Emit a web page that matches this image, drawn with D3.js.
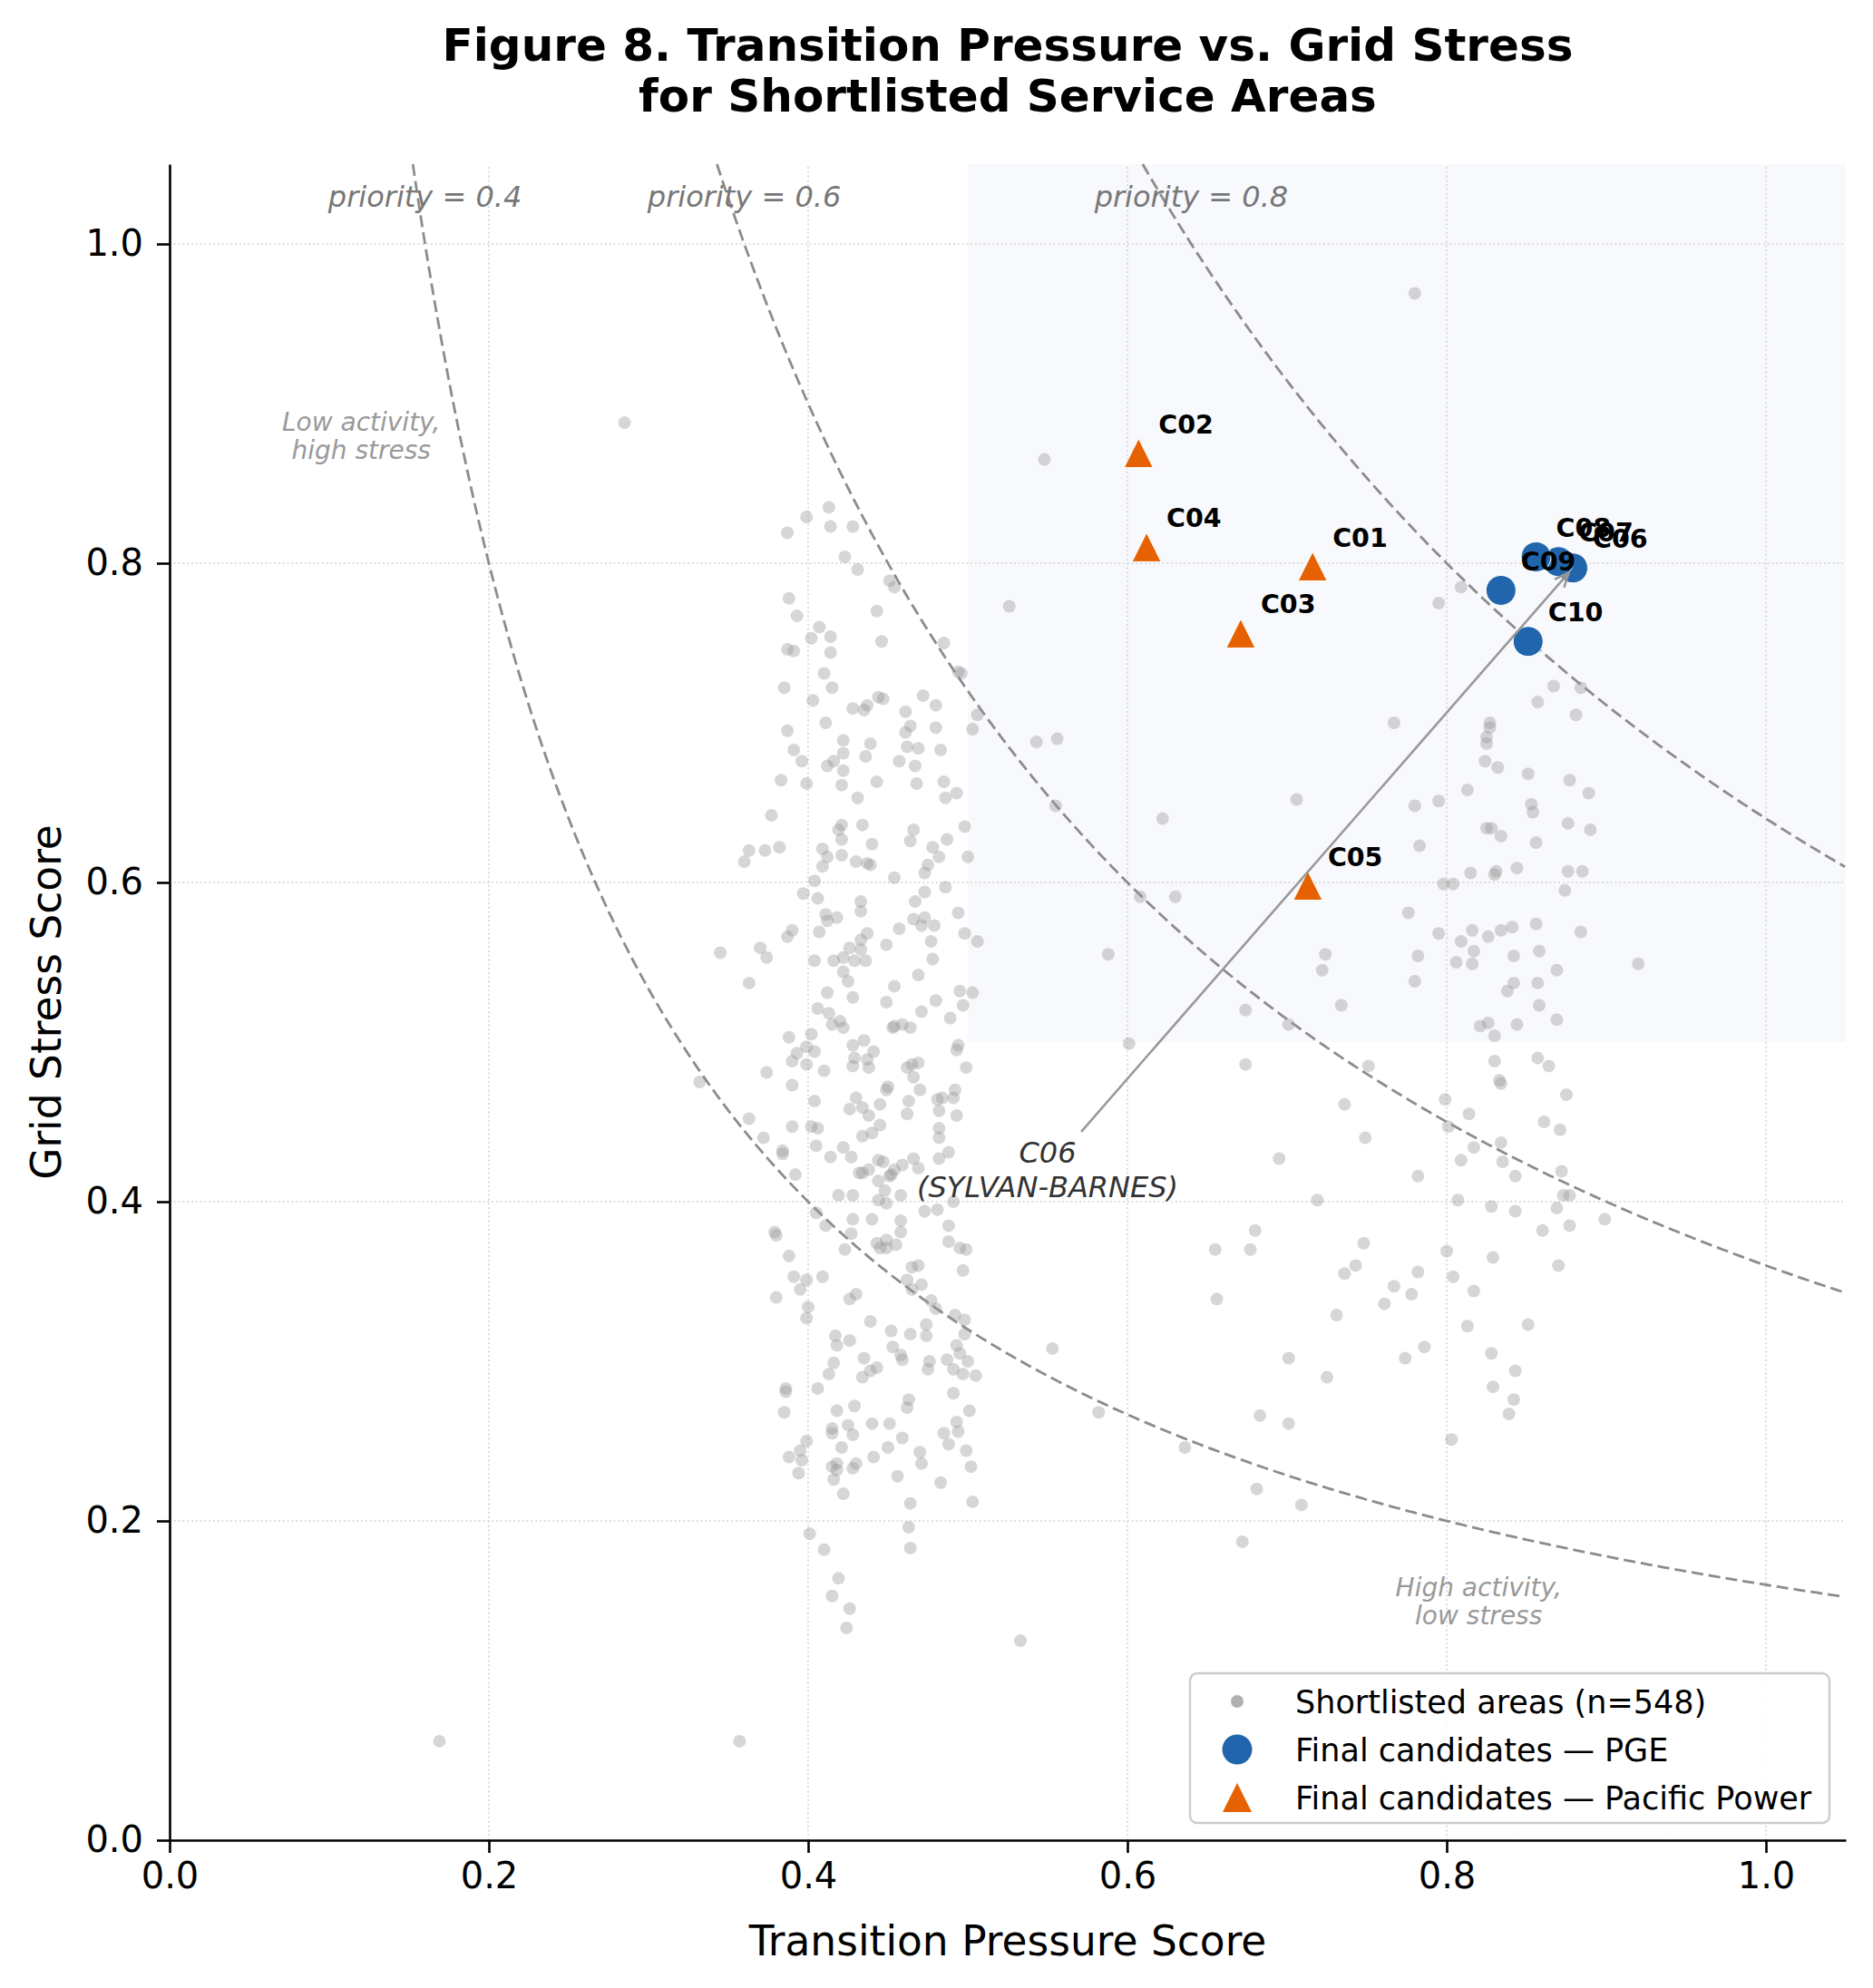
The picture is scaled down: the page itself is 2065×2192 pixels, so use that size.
<!DOCTYPE html>
<html>
<head>
<meta charset="utf-8">
<script src="https://cdn.jsdelivr.net/npm/d3@7"></script>
<style>
body{margin:0;background:#fff}
svg{display:block;font-family:"DejaVu Sans",sans-serif}
</style>
</head>
<body>
<svg id="chart" width="2065" height="2192"></svg>
<script>
// ---------------- data ----------------
var xTicks = [0.0, 0.2, 0.4, 0.6, 0.8, 1.0];
var yTicks = [0.0, 0.2, 0.4, 0.6, 0.8, 1.0];
var priorityLevels = [0.4, 0.6, 0.8];

var candidateIds     = ["C01","C02","C03","C04","C05","C06","C07","C08","C09","C10"];
var candidateUtility = ["Pacific Power","Pacific Power","Pacific Power","Pacific Power","Pacific Power","PGE","PGE","PGE","PGE","PGE"];
var candidateX       = [0.716,0.607,0.671,0.612,0.713,0.879,0.870,0.856,0.834,0.851];
var candidateY       = [0.798,0.869,0.756,0.810,0.598,0.797,0.801,0.804,0.783,0.751];

// shortlisted service areas [transition pressure, grid stress]
var shortlistedAreas = [
[0.169,0.062],[0.357,0.062],[0.285,0.888],[0.780,0.969],[0.533,0.125],[0.426,0.145],[0.424,0.133],
[0.548,0.865],[0.526,0.773],[0.809,0.785],[0.795,0.775],[0.867,0.723],[0.884,0.722],[0.857,0.713],[0.881,0.705],
[0.767,0.700],[0.827,0.700],[0.827,0.697],[0.825,0.691],[0.825,0.687],[0.824,0.676],[0.832,0.672],[0.851,0.668],
[0.877,0.664],[0.889,0.656],[0.813,0.658],[0.853,0.649],[0.854,0.644],[0.780,0.648],[0.795,0.651],[0.706,0.652],
[0.622,0.640],[0.876,0.637],[0.890,0.633],[0.825,0.634],[0.828,0.634],[0.834,0.629],[0.856,0.625],[0.783,0.623],
[0.815,0.606],[0.830,0.605],[0.831,0.607],[0.844,0.609],[0.876,0.607],[0.885,0.607],[0.874,0.595],[0.798,0.599],
[0.804,0.599],[0.776,0.581],[0.630,0.591],[0.608,0.591],[0.556,0.690],[0.543,0.688],[0.555,0.648],[0.506,0.705],
[0.503,0.696],[0.496,0.731],[0.498,0.635],[0.500,0.616],
[0.795,0.568],[0.809,0.563],[0.816,0.570],[0.826,0.566],[0.834,0.570],[0.841,0.572],[0.856,0.574],[0.884,0.569],
[0.817,0.557],[0.806,0.550],[0.816,0.549],[0.782,0.554],[0.842,0.554],[0.858,0.557],[0.869,0.545],[0.920,0.549],
[0.724,0.555],[0.722,0.545],[0.780,0.538],[0.842,0.537],[0.838,0.532],[0.857,0.537],[0.734,0.523],[0.858,0.523],
[0.826,0.512],[0.821,0.510],[0.844,0.511],[0.869,0.514],[0.830,0.504],[0.674,0.520],[0.701,0.511],[0.588,0.555],
[0.601,0.499],[0.674,0.486],[0.751,0.485],[0.830,0.488],[0.857,0.490],[0.864,0.485],[0.833,0.476],[0.834,0.474],
[0.875,0.467],[0.736,0.461],[0.799,0.464],[0.814,0.455],[0.861,0.450],[0.871,0.445],[0.801,0.447],[0.749,0.440],
[0.834,0.437],[0.817,0.434],[0.695,0.427],[0.809,0.426],[0.835,0.425],[0.782,0.416],[0.843,0.416],[0.872,0.419],
[0.873,0.404],[0.877,0.404],[0.719,0.401],[0.807,0.401],[0.828,0.397],[0.843,0.394],[0.869,0.396],[0.899,0.389],
[0.860,0.382],[0.877,0.385],[0.680,0.382],[0.655,0.370],[0.677,0.370],[0.748,0.374],[0.800,0.369],[0.829,0.365],
[0.870,0.360],[0.743,0.360],[0.736,0.355],[0.782,0.356],[0.804,0.353],[0.767,0.347],[0.778,0.342],[0.817,0.344],
[0.761,0.336],[0.656,0.339],[0.731,0.329],[0.851,0.323],[0.813,0.322],[0.786,0.309],[0.774,0.302],[0.701,0.302],
[0.553,0.308],[0.828,0.305],[0.843,0.294],[0.725,0.290],[0.829,0.284],[0.842,0.276],[0.839,0.267],[0.683,0.266],
[0.701,0.261],[0.582,0.268],[0.803,0.251],[0.636,0.246],[0.681,0.220],[0.709,0.210],[0.672,0.187],
[0.498,0.568],[0.506,0.563],[0.503,0.531],[0.497,0.523],[0.499,0.484],[0.500,0.300],[0.505,0.291],[0.501,0.269],
[0.499,0.244],[0.502,0.234],[0.503,0.212],
[0.387,0.819],[0.399,0.829],[0.413,0.835],[0.414,0.823],[0.428,0.823],[0.423,0.804],[0.431,0.796],[0.451,0.789],
[0.454,0.785],[0.388,0.778],[0.393,0.767],[0.443,0.770],[0.407,0.760],[0.414,0.754],[0.402,0.753],[0.446,0.751],
[0.387,0.746],[0.391,0.745],[0.414,0.744],[0.485,0.750],[0.494,0.732],[0.410,0.731],[0.415,0.722],[0.385,0.722],
[0.403,0.714],[0.472,0.717],[0.480,0.711],[0.444,0.716],[0.447,0.715],[0.428,0.709],[0.435,0.708],[0.437,0.711],
[0.461,0.707],[0.411,0.700],[0.387,0.695],[0.464,0.698],[0.461,0.694],[0.480,0.697],[0.422,0.689],[0.439,0.687],
[0.391,0.683],[0.422,0.681],[0.462,0.685],[0.469,0.684],[0.483,0.683],[0.436,0.679],[0.416,0.676],[0.412,0.673],
[0.396,0.676],[0.457,0.676],[0.467,0.673],[0.422,0.670],[0.383,0.664],[0.399,0.662],[0.421,0.661],[0.443,0.663],
[0.468,0.662],[0.485,0.663],[0.431,0.653],[0.493,0.656],[0.486,0.653],[0.377,0.642],[0.421,0.636],[0.419,0.633],
[0.421,0.627],[0.434,0.636],[0.466,0.633],[0.464,0.626],[0.487,0.627],[0.478,0.622],[0.482,0.616],[0.363,0.620],
[0.373,0.620],[0.382,0.622],[0.360,0.613],[0.409,0.621],[0.412,0.616],[0.409,0.610],[0.421,0.617],[0.440,0.624],
[0.430,0.613],[0.437,0.612],[0.439,0.611],[0.454,0.603],[0.475,0.611],[0.473,0.606],[0.404,0.601],[0.397,0.593],
[0.406,0.590],[0.486,0.597],[0.473,0.594],[0.467,0.588],[0.433,0.588],
[0.411,0.580],[0.418,0.578],[0.433,0.582],[0.466,0.577],[0.473,0.578],[0.471,0.573],[0.479,0.573],[0.494,0.581],
[0.412,0.576],[0.407,0.569],[0.390,0.570],[0.387,0.566],[0.345,0.556],[0.370,0.559],[0.374,0.553],[0.363,0.537],
[0.404,0.551],[0.416,0.551],[0.422,0.553],[0.426,0.559],[0.429,0.551],[0.433,0.558],[0.433,0.564],[0.437,0.568],
[0.436,0.551],[0.449,0.561],[0.457,0.571],[0.477,0.563],[0.478,0.552],[0.469,0.542],[0.422,0.544],[0.425,0.538],
[0.428,0.528],[0.412,0.531],[0.454,0.535],[0.449,0.525],[0.480,0.526],[0.471,0.519],[0.495,0.532],[0.489,0.515],
[0.406,0.521],[0.413,0.518],[0.415,0.511],[0.420,0.513],[0.422,0.509],[0.453,0.509],[0.454,0.510],[0.459,0.511],
[0.464,0.509],[0.388,0.503],[0.402,0.505],[0.399,0.497],[0.404,0.494],[0.393,0.493],[0.390,0.488],[0.399,0.486],
[0.428,0.498],[0.435,0.501],[0.441,0.494],[0.429,0.490],[0.428,0.485],[0.437,0.489],[0.438,0.484],[0.410,0.482],
[0.374,0.481],[0.494,0.498],[0.493,0.495],[0.462,0.484],[0.465,0.486],[0.469,0.487],[0.466,0.478],[0.470,0.470],
[0.332,0.475],[0.390,0.473],[0.450,0.472],[0.449,0.470],[0.430,0.465],[0.426,0.458],[0.434,0.459],[0.438,0.454],
[0.445,0.461],[0.404,0.463],[0.463,0.463],[0.462,0.455],[0.481,0.464],[0.484,0.465],[0.491,0.465],[0.482,0.457],
[0.493,0.454],[0.492,0.470],[0.363,0.452],[0.390,0.447],[0.402,0.447],[0.406,0.446],[0.445,0.448],[0.440,0.443],
[0.434,0.441],[0.482,0.446],[0.482,0.440],[0.372,0.440],[0.405,0.435],[0.384,0.432],[0.384,0.430],[0.422,0.434],
[0.427,0.428],[0.414,0.428],[0.482,0.427],[0.488,0.431],[0.444,0.426],[0.447,0.425],[0.466,0.427],[0.469,0.421],
[0.459,0.423],[0.454,0.420],[0.452,0.417],[0.451,0.416],[0.432,0.418],[0.434,0.418],[0.438,0.420],[0.392,0.417],
[0.444,0.413],[0.448,0.407],[0.419,0.404],[0.428,0.404],[0.458,0.404],[0.444,0.401],[0.449,0.399],[0.473,0.394],
[0.481,0.395],[0.491,0.400],[0.405,0.393],[0.411,0.385],[0.428,0.389],[0.440,0.389],[0.458,0.388],[0.458,0.381],
[0.488,0.385],[0.379,0.381],[0.380,0.379],[0.427,0.380],[0.423,0.370],[0.443,0.374],[0.449,0.376],[0.455,0.373],
[0.445,0.371],[0.449,0.371],[0.488,0.375],[0.495,0.371],[0.499,0.370],[0.388,0.366],[0.465,0.359],[0.469,0.360],
[0.497,0.357],[0.391,0.353],[0.399,0.351],[0.409,0.353],[0.395,0.345],[0.380,0.340],[0.462,0.351],[0.465,0.345],
[0.471,0.348],[0.426,0.339],[0.430,0.342],[0.400,0.334],[0.399,0.327],[0.477,0.338],[0.480,0.333],[0.492,0.329],
[0.498,0.326],[0.439,0.325],[0.474,0.323],
[0.474,0.316],[0.452,0.319],[0.464,0.317],[0.417,0.316],[0.418,0.310],[0.426,0.313],[0.498,0.317],[0.493,0.310],
[0.495,0.305],[0.453,0.309],[0.458,0.304],[0.459,0.301],[0.476,0.300],[0.475,0.295],[0.487,0.301],[0.491,0.295],
[0.497,0.292],[0.416,0.299],[0.413,0.292],[0.435,0.302],[0.434,0.290],[0.439,0.294],[0.443,0.296],[0.406,0.283],
[0.386,0.283],[0.386,0.281],[0.385,0.268],[0.491,0.280],[0.463,0.276],[0.462,0.271],[0.429,0.272],[0.418,0.269],
[0.425,0.260],[0.428,0.254],[0.415,0.258],[0.415,0.255],[0.440,0.261],[0.451,0.261],[0.459,0.252],[0.493,0.262],
[0.494,0.256],[0.485,0.255],[0.488,0.248],[0.399,0.250],[0.395,0.244],[0.396,0.238],[0.388,0.240],[0.394,0.230],
[0.421,0.246],[0.450,0.246],[0.441,0.240],[0.415,0.234],[0.418,0.236],[0.418,0.232],[0.416,0.226],[0.428,0.233],
[0.430,0.236],[0.470,0.243],[0.471,0.236],[0.456,0.228],[0.483,0.224],[0.422,0.217],[0.464,0.211],[0.463,0.196],
[0.401,0.192],[0.410,0.182],[0.464,0.183],[0.419,0.164],[0.415,0.153]
];

// ---------------- colours ----------------
var COLOR_PGE = "#2166ac";
var COLOR_PAC = "#e66101";
var COLOR_CURVE = "#8c8c8c";

var svg = d3.select("#chart");
svg.append("rect").attr("width",2065).attr("height",2192).attr("fill","#fff");

var x = d3.scaleLinear().domain([0,1.05]).range([187,2035]);
var y = d3.scaleLinear().domain([0,1.05]).range([2029,181]);

// ---- focus zone (both scores >= 0.5)
svg.append("rect")
	.attr("x",x(0.5)).attr("y",y(1.05))
	.attr("width",x(1.05)-x(0.5)).attr("height",y(0.5)-y(1.05))
	.attr("fill","#4a6fb0").attr("fill-opacity",0.04);

// ---- grid
var gGrid = svg.append("g").attr("id","grid");
xTicks.forEach(function(t){
	gGrid.append("line").attr("x1",x(t)).attr("x2",x(t)).attr("y1",y(0)).attr("y2",y(1.05))
		.attr("stroke","#d0d0d0").attr("stroke-width",1.6).attr("stroke-dasharray","1.8,3");
});
yTicks.forEach(function(t){
	gGrid.append("line").attr("x1",x(0)).attr("x2",x(1.05)).attr("y1",y(t)).attr("y2",y(t))
		.attr("stroke","#d0d0d0").attr("stroke-width",1.6).attr("stroke-dasharray","1.8,3");
});

// ---- iso-priority curves: sqrt(x*y) = p
var curve = d3.line().x(function(d){return x(d[0]);}).y(function(d){return y(d[1]);});
var gCurves = svg.append("g").attr("id","curves");
priorityLevels.forEach(function(p){
	var k = p*p;
	var pts = d3.range(k/1.05, 1.0501, 0.002).map(function(v){ return [v, k/v]; });
	gCurves.append("path").attr("d",curve(pts))
		.attr("fill","none").attr("stroke",COLOR_CURVE).attr("stroke-width",2.8)
		.attr("stroke-dasharray","13,6");
	gCurves.append("text").attr("x",x(k)).attr("y",y(1.03)+12)
		.attr("text-anchor","middle").attr("font-size",32).attr("font-style","italic")
		.attr("fill","#777").text("priority = "+p.toFixed(1));
});

// ---- shortlisted areas
svg.append("g").attr("id","areas").selectAll("circle")
	.data(shortlistedAreas).enter().append("circle")
	.attr("cx",function(d){return x(d[0]);})
	.attr("cy",function(d){return y(d[1]);})
	.attr("r",7)
	.attr("fill","#999").attr("fill-opacity",0.4);

// ---- final candidates
var candidates = candidateIds.map(function(id,i){
	return {id:id, utility:candidateUtility[i], x:candidateX[i], y:candidateY[i]};
});
var TRIANGLE = "M0,-16L16,16L-16,16Z";
var gCand = svg.append("g").attr("id","candidates");
candidates.forEach(function(c){
	if (c.utility=="PGE"){
		gCand.append("circle").attr("cx",x(c.x)).attr("cy",y(c.y)).attr("r",16.5)
			.attr("fill",COLOR_PGE).attr("stroke","#fff").attr("stroke-width",1);
	} else {
		gCand.append("path").attr("d",TRIANGLE)
			.attr("transform","translate("+x(c.x)+","+y(c.y)+")")
			.attr("fill",COLOR_PAC).attr("stroke","#fff").attr("stroke-width",1);
	}
});
candidates.forEach(function(c){
	gCand.append("text").attr("x",x(c.x)+22).attr("y",y(c.y)-22)
		.attr("font-size",28.5).attr("font-weight","bold").attr("fill","#000").text(c.id);
});

// ---- quadrant notes
function _multiText(g,lines,cx,cy,size,color,lineH){
	var t = g.append("text").attr("text-anchor","middle").attr("font-size",size)
		.attr("font-style","italic").attr("fill",color);
	var y0 = cy - (lines.length-1)*lineH/2 + size*0.36;
	lines.forEach(function(l,i){
		t.append("tspan").attr("x",cx).attr("y",y0+i*lineH).text(l);
	});
	return t;
}
var gNotes = svg.append("g").attr("id","notes");
_multiText(gNotes,["Low activity,","high stress"],x(0.12),y(0.88),28,"#999",31);
_multiText(gNotes,["High activity,","low stress"],x(0.82),y(0.15),28,"#999",31);

// ---- C06 call-out
var c06 = candidates.filter(function(c){return c.id=="C06";})[0];
var callout = _multiText(gNotes,["C06","(SYLVAN-BARNES)"],x(0.55),y(0.42),32,"#333",38);
var bb = callout.node().getBBox();
var cx0 = bb.x+bb.width/2, cy0 = bb.y+bb.height/2;
var tx = x(c06.x), ty = y(c06.y);
var dx = tx-cx0, dy = ty-cy0, len = Math.sqrt(dx*dx+dy*dy);
var ux = dx/len, uy = dy/len;
var tEdge = Math.min((bb.width/2)/Math.abs(ux), (bb.height/2)/Math.abs(uy));
var sx = cx0+ux*(tEdge+7), sy = cy0+uy*(tEdge+7);
var ex = tx-ux*7, ey = ty-uy*7;
var gArrow = gNotes.append("g").attr("stroke","#999").attr("stroke-width",2.6).attr("fill","none")
	.attr("stroke-linecap","round");
gArrow.append("line").attr("x1",sx).attr("y1",sy).attr("x2",ex).attr("y2",ey);
var ang = Math.atan2(uy,ux), hl = 16, ha = 0.42;
gArrow.append("path").attr("d","M"+(ex-hl*Math.cos(ang-ha))+","+(ey-hl*Math.sin(ang-ha))+
	"L"+ex+","+ey+"L"+(ex-hl*Math.cos(ang+ha))+","+(ey-hl*Math.sin(ang+ha)));

// ---- axes
var xAxis = d3.axisBottom(x).tickValues(xTicks).tickFormat(d3.format(".1f"))
	.tickSize(14).tickSizeOuter(0).tickPadding(11);
var yAxis = d3.axisLeft(y).tickValues(yTicks).tickFormat(d3.format(".1f"))
	.tickSize(14).tickSizeOuter(0).tickPadding(15);
var gx = svg.append("g").attr("transform","translate(0,"+y(0)+")").call(xAxis);
var gy = svg.append("g").attr("transform","translate("+x(0)+",0)").call(yAxis);
[gx,gy].forEach(function(g){
	g.select(".domain").attr("stroke","#000").attr("stroke-width",2.6);
	g.selectAll(".tick line").attr("stroke","#000").attr("stroke-width",2.6);
	g.selectAll(".tick text").attr("font-size",40).attr("fill","#000")
		.attr("font-family","DejaVu Sans");
});

svg.append("text").attr("x",(x(0)+x(1.05))/2).attr("y",2156)
	.attr("text-anchor","middle").attr("font-size",45.5).attr("fill","#000")
	.text("Transition Pressure Score");
svg.append("text").attr("transform","translate(67,"+((y(0)+y(1.05))/2)+") rotate(-90)")
	.attr("text-anchor","middle").attr("font-size",45.5).attr("fill","#000")
	.text("Grid Stress Score");

// ---- title
var title = svg.append("text").attr("text-anchor","middle").attr("font-size",50)
	.attr("font-weight","bold").attr("fill","#000");
title.append("tspan").attr("x",1111).attr("y",67).text("Figure 8. Transition Pressure vs. Grid Stress");
title.append("tspan").attr("x",1111).attr("y",123).text("for Shortlisted Service Areas");

// ---- legend
var gLeg = svg.append("g").attr("id","legend");
gLeg.append("rect").attr("x",1312).attr("y",1845).attr("width",705).attr("height",165)
	.attr("rx",8).attr("fill","#fff").attr("fill-opacity",0.85)
	.attr("stroke","#cccccc").attr("stroke-width",2.4);
var legendItems = [
	{label:"Shortlisted areas (n=548)", kind:"area"},
	{label:"Final candidates \u2014 PGE", kind:"PGE"},
	{label:"Final candidates \u2014 Pacific Power", kind:"Pacific Power"}
];
legendItems.forEach(function(it,i){
	var cy = 1876 + i*53;
	if (it.kind=="area"){
		gLeg.append("circle").attr("cx",1364).attr("cy",cy).attr("r",7).attr("fill","#b0b0b0");
	} else if (it.kind=="PGE"){
		gLeg.append("circle").attr("cx",1364).attr("cy",cy).attr("r",16.5).attr("fill",COLOR_PGE);
	} else {
		gLeg.append("path").attr("d",TRIANGLE).attr("transform","translate(1364,"+cy+")").attr("fill",COLOR_PAC);
	}
	gLeg.append("text").attr("x",1428).attr("y",cy+13).attr("font-size",35).attr("fill","#000").text(it.label);
});
</script>
</body>
</html>
